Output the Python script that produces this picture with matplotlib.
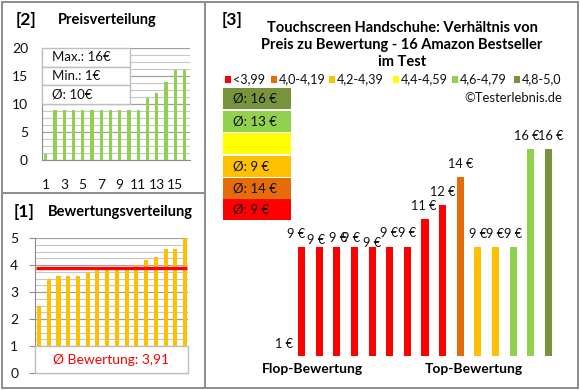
import matplotlib
matplotlib.use("Agg")
import matplotlib.pyplot as plt
from matplotlib.patches import Rectangle
from matplotlib.lines import Line2D
import numpy as np

plt.rcParams['font.family'] = ['Lato', 'DejaVu Sans']

# ---------------- data ----------------
prices = [1, 9, 9, 9, 9, 9, 9, 9, 11, 12, 14, 9, 9, 9, 16, 16]          # € per product, flop -> top
ratings = [2.5, 3.5, 3.6, 3.6, 3.6, 3.7, 3.8, 3.8, 3.85, 3.85, 4.0, 4.2, 4.3, 4.6, 4.6, 5.0]
cat_labels = ["<3,99", "4,0-4,19", "4,2-4,39", "4,4-4,59", "4,6-4,79", "4,8-5,0"]
cat_bounds = [4.0, 4.2, 4.4, 4.6, 4.8, 5.01]
cat_colors = ["#FF0000", "#E46C0A", "#FFC000", "#FFFF00", "#92D050", "#77933C"]
price_ticks = [1, 3, 5, 7, 9, 11, 13, 15]
title_main = "Touchscreen Handschuhe: Verhältnis von\nPreis zu Bewertung - 16 Amazon Bestseller\nim Test"

# label fine offsets (pixels) for main chart data labels
lab_dx = [0, -5, -3, 1, -3, 0, -1, 0, -1, 0, 0, 0, 0, 0, -4, 2]
lab_dy = [0, 0, -5, -3, -3, -8, 1, 1, 0, 0, 0, 0, 0, 0, 0, 0]

W, H = 580, 390
fig = plt.figure(figsize=(W / 100, H / 100), dpi=100)
fig.patch.set_facecolor("white")


def rect(x0, y0, x1, y1):
    return [x0 / W, 1 - y1 / H, (x1 - x0) / W, (y1 - y0) / H]


def fx(x):
    return x / W


def fy(y):
    return 1 - y / H


BORDER = "#8C8C8C"
GRID_MAJ = "#A0A0A0"
GRID_MIN = "#C8C8C8"
TXT = "#111111"

# panel borders
fig.add_artist(Rectangle((fx(1.5), fy(388)), (576) / W, (386.5) / H, transform=fig.transFigure,
                         fill=False, edgecolor=BORDER, lw=1.4))
fig.add_artist(Line2D([fx(205), fx(205)], [fy(1.5), fy(388)], transform=fig.transFigure, color=BORDER, lw=1.4))
fig.add_artist(Line2D([fx(1.5), fx(205)], [fy(192.5), fy(192.5)], transform=fig.transFigure, color=BORDER, lw=1.4))

# ---------------- panel [2] Preisverteilung ----------------
ax2 = fig.add_axes(rect(42, 48, 190, 160))
xs = np.arange(1, len(prices) + 1)
ax2.bar(xs, sorted(prices), width=0.36, color="#92D050", zorder=3)
ax2.set_xlim(0.6, 16.6)
ax2.set_ylim(0, 20)
ax2.set_yticks(np.arange(0, 21, 5))
ax2.set_yticks(np.arange(0, 20.01, 1.25), minor=True)
ax2.set_xticks(price_ticks)
ax2.grid(axis="y", which="minor", color=GRID_MIN, lw=0.8, zorder=0)
ax2.grid(axis="y", which="major", color=GRID_MAJ, lw=0.9, zorder=0)
for s in ["top", "right"]:
    ax2.spines[s].set_visible(False)
for s in ["left", "bottom"]:
    ax2.spines[s].set_color(BORDER)
ax2.tick_params(axis="y", which="major", length=0, pad=10, labelsize=10, labelcolor=TXT)
ax2.tick_params(axis="y", which="minor", length=0)
ax2.tick_params(axis="x", length=0, pad=14, labelsize=10, labelcolor=TXT)
# info box
rows = [f"Max.: {max(prices)}€", f"Min.: {min(prices)}€", f"Ø: {int(np.mean(prices) + 0.5)}€"]
bx0, bx1 = 0.0, 88 / 148
for i, t in enumerate(rows):
    y0 = 1 - (i + 1) / 6
    ax2.add_patch(Rectangle((bx0, y0), bx1 - bx0, 1 / 6, transform=ax2.transAxes,
                            facecolor="white", edgecolor="#BFBFBF", lw=1.0, zorder=5, clip_on=False))
    ax2.text(0.07, y0 + 1 / 12, t, transform=ax2.transAxes, ha="left", va="center",
             fontsize=9.5, color=TXT, zorder=6)

fig.text(fx(16), fy(20), "[2]", fontsize=12.5, fontweight="bold", va="center", ha="left")
fig.text(fx(58), fy(20), "Preisverteilung", fontsize=10.5, fontweight="bold", va="center", ha="left")

# ---------------- panel [1] Bewertungsverteilung ----------------
ax1 = fig.add_axes(rect(35, 238, 188, 373))
xs1 = np.arange(1, len(ratings) + 1)
ax1.bar(xs1, ratings, width=0.42, color="#FFC000", zorder=3)
ax1.set_xlim(0.59, 16.3)
ax1.set_ylim(0, 5)
ax1.set_yticks(np.arange(0, 6, 1))
ax1.set_yticks(np.arange(0, 5.01, 0.25), minor=True)
ax1.set_xticks([])
ax1.grid(axis="y", which="minor", color=GRID_MIN, lw=0.8, zorder=0)
ax1.grid(axis="y", which="major", color=GRID_MAJ, lw=0.9, zorder=0)
for s in ["top", "right"]:
    ax1.spines[s].set_visible(False)
for s in ["left", "bottom"]:
    ax1.spines[s].set_color(BORDER)
ax1.tick_params(axis="y", which="major", length=4, color=BORDER, pad=8, labelsize=10, labelcolor=TXT)
ax1.tick_params(axis="y", which="minor", length=0)
mean_r = float(np.mean(ratings))
ax1.plot([0.72, 16.2], [mean_r, mean_r], color="#FF0000", lw=2.4, zorder=4, solid_capstyle="butt")
ax1.add_patch(Rectangle((0, 0), 1, 0.2, transform=ax1.transAxes, facecolor="white",
                        edgecolor="#BFBFBF", lw=1.0, zorder=5, clip_on=False))
ax1.text(0.5, 0.1, "Ø Bewertung: " + f"{mean_r:.2f}".replace(".", ","), transform=ax1.transAxes,
         ha="center", va="center", fontsize=10, color="#FF0000", zorder=6)

fig.text(fx(14), fy(212), "[1]", fontsize=12.5, fontweight="bold", va="center", ha="left")
fig.text(fx(48), fy(212), "Bewertungsverteilung", fontsize=10.5, fontweight="bold", va="center", ha="left")

# ---------------- panel [3] main chart ----------------
fig.text(fx(222), fy(20), "[3]", fontsize=12.5, fontweight="bold", va="center", ha="left")
fig.text(fx(402), fy(45), title_main, fontsize=10.5, fontweight="bold", va="center", ha="center",
         linespacing=1.3)


def cat_of(r):
    for i, b in enumerate(cat_bounds):
        if r < b:
            return i
    return len(cat_bounds) - 1


cats = [cat_of(r) for r in ratings]

# legend row
leg_sq_x = [225, 271, 329, 393, 452, 514]
for i, (lab, col) in enumerate(zip(cat_labels, cat_colors)):
    fig.add_artist(Rectangle((fx(leg_sq_x[i]), fy(82.5)), 6 / W, 6 / H, transform=fig.transFigure,
                             facecolor=col, edgecolor="none"))
    fig.text(fx(leg_sq_x[i] + 7.5), fy(79), lab, fontsize=9.1, va="center", ha="left", color=TXT)

fig.text(fx(562), fy(98), "©Testerlebnis.de", fontsize=9.4, va="center", ha="right", color=TXT)

# average boxes (top: best category)
box_tops = [88, 111, 133, 156, 178, 199]
for j, ci in enumerate(range(len(cat_colors) - 1, -1, -1)):
    y0 = box_tops[j]
    fig.add_artist(Rectangle((fx(223), fy(y0 + 21)), 68 / W, 21 / H, transform=fig.transFigure,
                             facecolor=cat_colors[ci], edgecolor="none"))
    grp = [p for p, c in zip(prices, cats) if c == ci]
    if grp:
        fig.text(fx(233), fy(y0 + 10.5), f"Ø: {int(np.mean(grp) + 0.5)} €", fontsize=9.5,
                 va="center", ha="left", color=TXT)

axm = fig.add_axes(rect(275, 135, 560, 356))
xm = np.arange(len(prices))
axm.bar(xm, prices, width=0.4, color=[cat_colors[c] for c in cats])
axm.set_xlim(-0.51, 15.66)
y_lo = 1.2
axm.set_ylim(y_lo, 17)
axm.axis("off")
for i, p in enumerate(prices):
    axm.annotate(f"{p} €", (xm[i], max(p, y_lo)), xytext=(lab_dx[i] * 0.75, 9 + lab_dy[i] * 0.75),
                 textcoords="offset points", ha="center", va="center", fontsize=9.2, color=TXT,
                 annotation_clip=False)

fig.text(fx(312), fy(369), "Flop-Bewertung", fontsize=10, fontweight="bold", va="center", ha="center")
fig.text(fx(474), fy(369), "Top-Bewertung", fontsize=10, fontweight="bold", va="center", ha="center")

fig.savefig("out.png", dpi=100, facecolor="white")
